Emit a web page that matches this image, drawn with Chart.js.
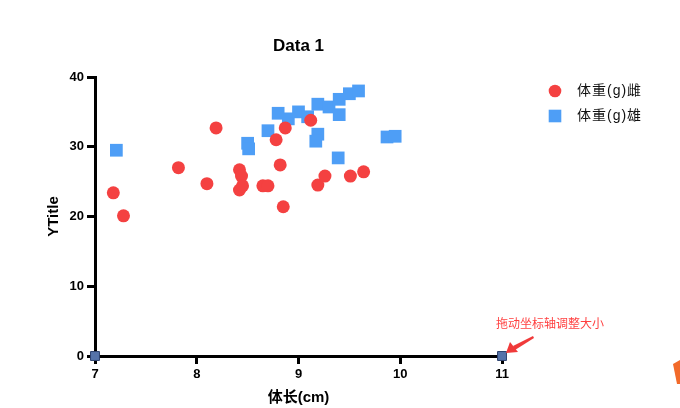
<!DOCTYPE html>
<html>
<head>
<meta charset="utf-8">
<script src="https://cdn.jsdelivr.net/npm/chart.js@4.4.1/dist/chart.umd.min.js"></script>
<style>
  html, body { margin: 0; padding: 0; background: #fff; }
  #wrap { width: 680px; height: 408px; }
</style>
</head>
<body>
<div id="wrap"><canvas id="scatterChart" width="680" height="408"></canvas></div>
<script>
// data
const femaleLength = [7.18, 7.28, 7.82, 8.10, 8.19, 8.42, 8.44, 8.42, 8.45, 8.65, 8.70, 8.78, 8.82, 8.85, 8.87, 9.12, 9.19, 9.26, 9.51, 9.64];
const femaleWeight = [23.4, 20.1, 27.0, 24.7, 32.7, 26.7, 25.8, 23.8, 24.4, 24.4, 24.4, 31.0, 27.4, 21.4, 32.7, 33.8, 24.5, 25.8, 25.8, 26.4];
const maleLength = [7.21, 8.50, 8.51, 8.70, 8.80, 8.90, 9.00, 9.09, 9.19, 9.30, 9.40, 9.50, 9.59, 9.40, 9.19, 9.17, 9.39, 9.87, 9.95];
const maleWeight = [29.5, 30.5, 29.7, 32.3, 34.8, 34.0, 35.0, 34.3, 36.1, 35.7, 36.8, 37.6, 38.0, 34.6, 31.8, 30.8, 28.4, 31.4, 31.5];
const handleLength = [7, 11];
const handleWeight = [0, 0];
const seriesNames = ["体重(g)雌", "体重(g)雄"];
const xTicks = [7, 8, 9, 10, 11];
const yTicks = [0, 10, 20, 30, 40];

const FONT = "'Liberation Sans', 'Noto Sans CJK SC', sans-serif";
const RED = "#F44141";
const BLUE = "#4E9EF6";

function toPoints(xs, ys) {
    return xs.map((x, i) => ({ x: x, y: ys[i] }));
}

// === legend drawn at the right side ===
const sideLegend = {
    id: "sideLegend",
    afterDraw(chart) {
        const ctx = chart.ctx;
        const x0 = 555, y0 = 91, gap = 25;
        ctx.save();
        chart.data.datasets.slice(0, 2).forEach((ds, i) => {
            const y = y0 + i * gap;
            ctx.fillStyle = ds.backgroundColor;
            if (ds.pointStyle === "circle") {
                ctx.beginPath();
                ctx.arc(x0, y, 6.3, 0, Math.PI * 2);
                ctx.fill();
            } else {
                ctx.fillRect(x0 - 6.3, y - 6.3, 12.6, 12.6);
            }
            ctx.fillStyle = "#111";
            ctx.font = "14px " + FONT;
            ctx.letterSpacing = "1px";
            ctx.textBaseline = "middle";
            ctx.textAlign = "left";
            ctx.fillText(ds.label, 577, y);
        });
        ctx.restore();
    },
};

// === hint label and arrow near the x axis end ===
const axisHint = {
    id: "axisHint",
    afterDraw(chart) {
        const ctx = chart.ctx;
        const tipX = chart.scales.x.getPixelForValue(handleLength[1]) + 4;
        const tipY = chart.scales.y.getPixelForValue(handleWeight[1]) - 3;
        ctx.save();
        ctx.fillStyle = "#FF3F3F";
        ctx.font = "12px 'Noto Sans CJK SC', sans-serif";
        ctx.textBaseline = "middle";
        ctx.textAlign = "left";
        ctx.fillText("拖动坐标轴调整大小", 496, 323);

        // tapered shaft + head
        ctx.fillStyle = "#F03A3A";
        ctx.beginPath();
        ctx.moveTo(533, 336);
        ctx.lineTo(534, 338);
        ctx.lineTo(tipX + 9, tipY - 3);
        ctx.lineTo(tipX + 7, tipY - 7);
        ctx.closePath();
        ctx.fill();
        ctx.beginPath();
        ctx.moveTo(tipX, tipY);
        ctx.lineTo(tipX + 4, tipY - 11);
        ctx.lineTo(tipX + 12, tipY - 1);
        ctx.closePath();
        ctx.fill();

        // partial orange icon at the right edge
        ctx.fillStyle = "#F26A2A";
        ctx.beginPath();
        ctx.moveTo(673, 364);
        ctx.lineTo(680, 360);
        ctx.lineTo(680, 384);
        ctx.lineTo(677, 384);
        ctx.closePath();
        ctx.fill();
        ctx.restore();
    },
};

const ctx = document.getElementById("scatterChart").getContext("2d");
const axisStyle = {
    grid: {
        display: true,
        drawOnChartArea: false,
        drawTicks: true,
        tickLength: 8,
        tickWidth: 3,
        lineWidth: 3,
        color: "#000",
    },
    border: { display: true, color: "#000", width: 3 },
};

window.scatterChart = new Chart(ctx, {
    type: "scatter",
    data: {
        datasets: [
            {
                label: seriesNames[0],
                data: toPoints(femaleLength, femaleWeight),
                pointStyle: "circle",
                backgroundColor: RED,
                borderWidth: 0,
                pointRadius: 6.5,
                pointHoverRadius: 6.5,
            },
            {
                label: seriesNames[1],
                data: toPoints(maleLength, maleWeight),
                pointStyle: "rect",
                backgroundColor: BLUE,
                borderWidth: 0,
                pointRadius: 9,
                pointHoverRadius: 9,
            },
            {
                label: "handles",
                data: toPoints(handleLength, handleWeight),
                pointStyle: "rect",
                backgroundColor: "#5573AA",
                borderColor: "#2D426E",
                borderWidth: 1,
                pointRadius: 6.3,
                clip: false,
            },
        ],
    },
    options: {
        responsive: false,
        animation: false,
        layout: { padding: { left: 0, right: 178, top: 0, bottom: 0 } },
        plugins: {
            legend: { display: false },
            tooltip: { enabled: false },
            title: {
                display: true,
                text: "Data 1",
                fullSize: false,
                color: "#000",
                font: { family: FONT, size: 17, weight: "bold" },
                padding: { top: 36, bottom: 20.6 },
            },
        },
        scales: {
            x: {
                type: "linear",
                position: "bottom",
                min: xTicks[0],
                max: xTicks[xTicks.length - 1],
                afterBuildTicks: (s) => { s.ticks = xTicks.map((v) => ({ value: v })); },
                afterFit: (s) => { s.height = 52; },
                ticks: {
                    color: "#000",
                    padding: 3,
                    font: { family: FONT, size: 13, weight: "bold" },
                },
                title: {
                    display: true,
                    text: "体长(cm)",
                    color: "#000",
                    font: { family: FONT, size: 15, weight: "bold" },
                    padding: { top: 0, bottom: 1 },
                },
                ...axisStyle,
            },
            y: {
                type: "linear",
                position: "left",
                min: yTicks[0],
                max: yTicks[yTicks.length - 1],
                afterBuildTicks: (s) => { s.ticks = yTicks.map((v) => ({ value: v })); },
                afterFit: (s) => { s.width = 95; },
                ticks: {
                    color: "#000",
                    padding: 3,
                    font: { family: FONT, size: 13, weight: "bold" },
                },
                title: {
                    display: true,
                    text: "YTitle",
                    color: "#000",
                    font: { family: FONT, size: 15, weight: "bold" },
                    padding: { top: 45, bottom: 0 },
                },
                ...axisStyle,
            },
        },
    },
    plugins: [sideLegend, axisHint],
});
</script>
</body>
</html>
